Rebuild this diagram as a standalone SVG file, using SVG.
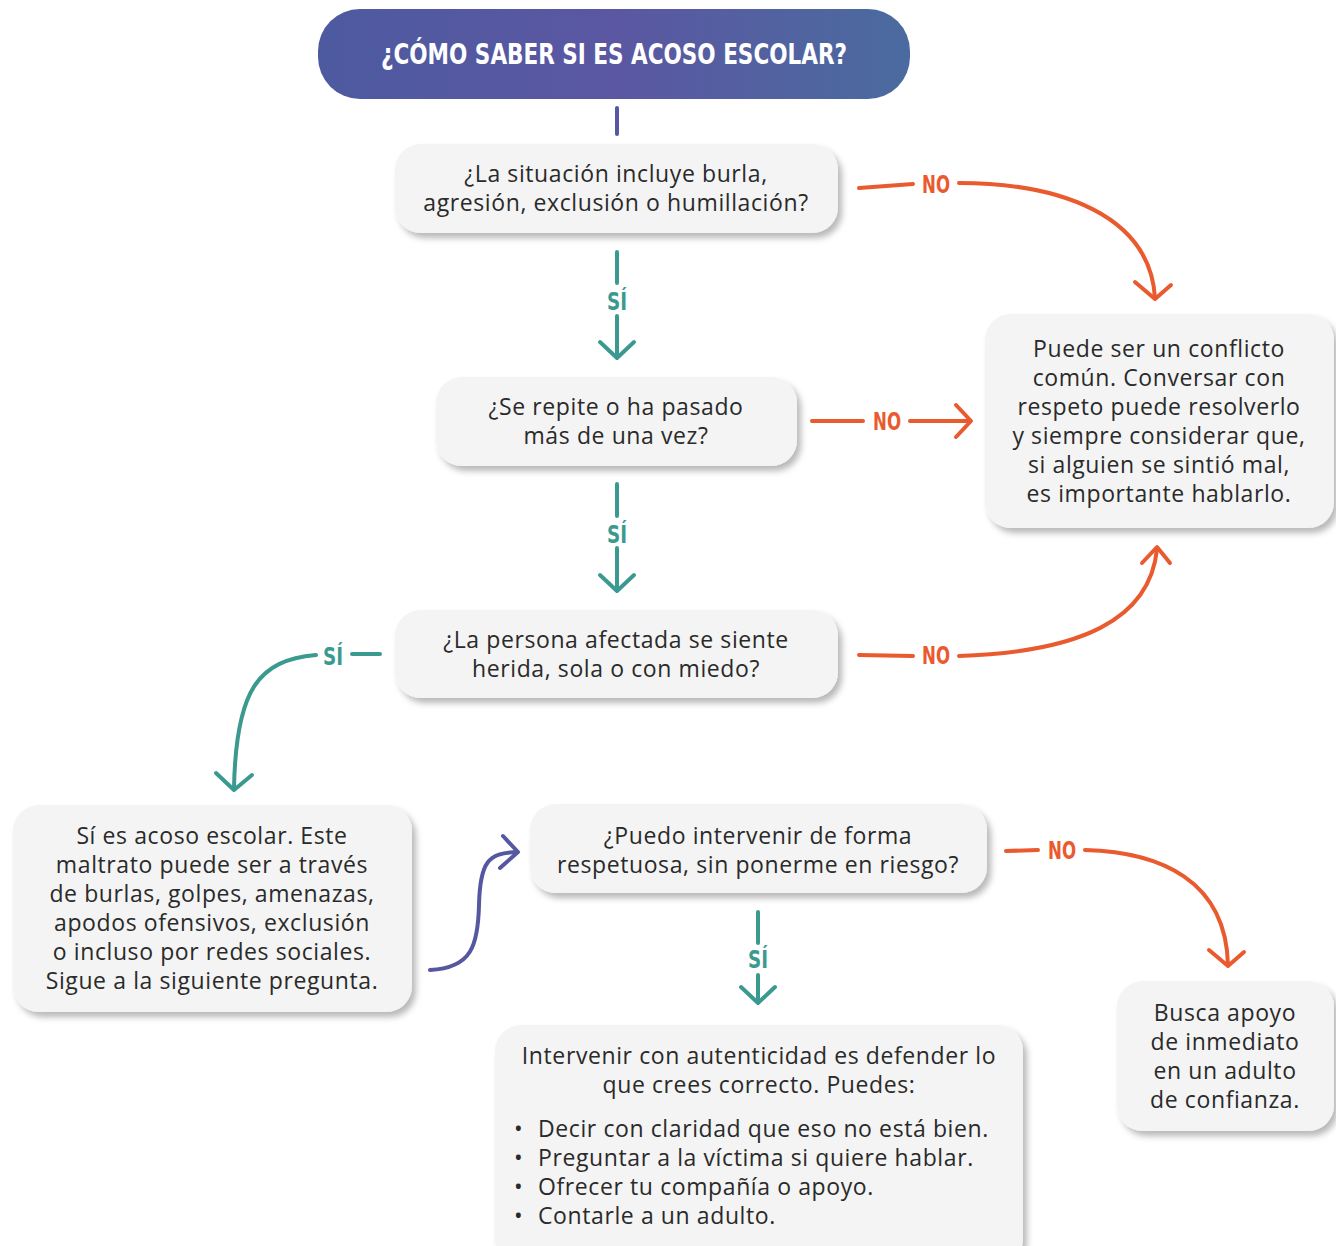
<svg xmlns="http://www.w3.org/2000/svg" width="1336" height="1246" viewBox="0 0 1336 1246">
<defs>
<linearGradient id="tg" x1="0" y1="0" x2="1" y2="0">
<stop offset="0" stop-color="#4d5aa0"/>
<stop offset="0.5" stop-color="#5b57a2"/>
<stop offset="1" stop-color="#4a6b9f"/>
</linearGradient>
<filter id="sh" x="-10%" y="-10%" width="125%" height="130%">
<feDropShadow dx="4" dy="5" stdDeviation="3" flood-color="#000" flood-opacity="0.28"/>
</filter>
<style>
.box{fill:#f4f4f4;filter:url(#sh)}
.t{font-family:"Open Sans","Noto Sans",sans-serif;font-size:23px;fill:#2a2a2a;text-anchor:middle;letter-spacing:0.6px}
.tl{font-family:"Open Sans","Noto Sans",sans-serif;font-size:23px;fill:#2a2a2a;letter-spacing:0.6px}
.bul{font-family:"Open Sans",sans-serif;font-size:23px;fill:#2a2a2a}
.lab{font-family:"Liberation Sans Narrow","DejaVu Sans Condensed","DejaVu Sans",sans-serif;font-stretch:condensed;font-weight:bold;font-size:24px;text-anchor:middle}
.teal{stroke:#3b9a8f;fill:none;stroke-width:4;stroke-linecap:round;stroke-linejoin:round}
.org{stroke:#ea5a2f;fill:none;stroke-width:4;stroke-linecap:round;stroke-linejoin:round}
.pur{stroke:#5557a1;fill:none;stroke-width:4;stroke-linecap:round;stroke-linejoin:round}
</style>
</defs>
<rect width="1336" height="1246" fill="#fff"/>

<g id="title">
<rect x="318" y="9" width="592" height="90" rx="42" fill="url(#tg)"/>
<text x="614" y="64" font-family="'Liberation Sans Narrow','DejaVu Sans Condensed',sans-serif" font-weight="bold" font-size="29" fill="#fff" text-anchor="middle" textLength="466" lengthAdjust="spacingAndGlyphs">¿CÓMO SABER SI ES ACOSO ESCOLAR?</text>
</g>

<g id="q1">
<rect class="box" x="395" y="144" width="443" height="89" rx="26"/>
<text class="t" x="616" y="182">¿La situación incluye burla,</text>
<text class="t" x="616" y="211">agresión, exclusión o humillación?</text>
</g>

<g id="q2">
<rect class="box" x="436" y="377" width="361" height="89" rx="26"/>
<text class="t" x="616" y="415">¿Se repite o ha pasado</text>
<text class="t" x="616" y="444">más de una vez?</text>
</g>

<g id="q3">
<rect class="box" x="395" y="610" width="443" height="88" rx="26"/>
<text class="t" x="616" y="648">¿La persona afectada se siente</text>
<text class="t" x="616" y="677">herida, sola o con miedo?</text>
</g>

<g id="conflicto">
<rect class="box" x="985" y="314" width="349" height="214" rx="26"/>
<text class="t" x="1159" y="357">Puede ser un conflicto</text>
<text class="t" x="1159" y="386">común. Conversar con</text>
<text class="t" x="1159" y="415">respeto puede resolverlo</text>
<text class="t" x="1159" y="444">y siempre considerar que,</text>
<text class="t" x="1159" y="473">si alguien se sintió mal,</text>
<text class="t" x="1159" y="502">es importante hablarlo.</text>
</g>

<g id="acoso">
<rect class="box" x="13" y="805" width="399" height="207" rx="26"/>
<text class="t" x="212" y="844">Sí es acoso escolar. Este</text>
<text class="t" x="212" y="873">maltrato puede ser a través</text>
<text class="t" x="212" y="902">de burlas, golpes, amenazas,</text>
<text class="t" x="212" y="931">apodos ofensivos, exclusión</text>
<text class="t" x="212" y="960">o incluso por redes sociales.</text>
<text class="t" x="212" y="989">Sigue a la siguiente pregunta.</text>
</g>

<g id="q4">
<rect class="box" x="530" y="804" width="457" height="89" rx="26"/>
<text class="t" x="758" y="844">¿Puedo intervenir de forma</text>
<text class="t" x="758" y="873">respetuosa, sin ponerme en riesgo?</text>
</g>

<g id="intervenir">
<rect class="box" x="495" y="1025" width="528" height="240" rx="26"/>
<text class="t" x="759" y="1064">Intervenir con autenticidad es defender lo</text>
<text class="t" x="759" y="1093">que crees correcto. Puedes:</text>
<text class="bul" x="514" y="1137">•</text><text class="tl" x="538" y="1137">Decir con claridad que eso no está bien.</text>
<text class="bul" x="514" y="1166">•</text><text class="tl" x="538" y="1166">Preguntar a la víctima si quiere hablar.</text>
<text class="bul" x="514" y="1195">•</text><text class="tl" x="538" y="1195">Ofrecer tu compañía o apoyo.</text>
<text class="bul" x="514" y="1224">•</text><text class="tl" x="538" y="1224">Contarle a un adulto.</text>
</g>

<g id="busca">
<rect class="box" x="1117" y="981" width="217" height="150" rx="26"/>
<text class="t" x="1225" y="1021">Busca apoyo</text>
<text class="t" x="1225" y="1050">de inmediato</text>
<text class="t" x="1225" y="1079">en un adulto</text>
<text class="t" x="1225" y="1108">de confianza.</text>
</g>

<g id="connectors">
<line class="pur" x1="617" y1="108" x2="617" y2="134"/>

<line class="teal" x1="617" y1="252" x2="617" y2="283"/>
<line class="teal" x1="617" y1="316" x2="617" y2="357"/>
<polyline class="teal" points="600,342 617,358 634,342"/>
<text class="lab" x="617" y="310" fill="#3b9a8f" textLength="20" lengthAdjust="spacingAndGlyphs">SÍ</text>

<line class="teal" x1="617" y1="484" x2="617" y2="516"/>
<line class="teal" x1="617" y1="548" x2="617" y2="590"/>
<polyline class="teal" points="600,575 617,591 634,575"/>
<text class="lab" x="617" y="543" fill="#3b9a8f" textLength="20" lengthAdjust="spacingAndGlyphs">SÍ</text>

<line class="teal" x1="758" y1="912" x2="758" y2="943"/>
<line class="teal" x1="758" y1="975" x2="758" y2="1002"/>
<polyline class="teal" points="741,987 758,1003 775,987"/>
<text class="lab" x="758" y="968" fill="#3b9a8f" textLength="20" lengthAdjust="spacingAndGlyphs">SÍ</text>

<line class="teal" x1="380" y1="654" x2="352" y2="654"/>
<path class="teal" d="M316,655 C258,660 236,690 234,788"/>
<polyline class="teal" points="216,773 234,790 252,775"/>
<text class="lab" x="333" y="665" fill="#3b9a8f" textLength="20" lengthAdjust="spacingAndGlyphs">SÍ</text>

<path class="org" d="M859,188 L913,184"/>
<path class="org" d="M959,183 C1060,183 1150,215 1155,298"/>
<polyline class="org" points="1135,282 1155,299 1171,285"/>
<text class="lab" x="936" y="193" fill="#ea5a2f" textLength="28" lengthAdjust="spacingAndGlyphs">NO</text>

<line class="org" x1="812" y1="421" x2="863" y2="421"/>
<line class="org" x1="910" y1="421" x2="970" y2="421"/>
<polyline class="org" points="956,405 971,421 956,437"/>
<text class="lab" x="887" y="430" fill="#ea5a2f" textLength="28" lengthAdjust="spacingAndGlyphs">NO</text>

<path class="org" d="M859,655 L913,656"/>
<path class="org" d="M959,656 C1080,652 1150,620 1157,549"/>
<polyline class="org" points="1142,563 1157,547 1170,563"/>
<text class="lab" x="936" y="664" fill="#ea5a2f" textLength="28" lengthAdjust="spacingAndGlyphs">NO</text>

<path class="org" d="M1006,851 L1038,850"/>
<path class="org" d="M1085,850 C1160,852 1226,880 1228,965"/>
<polyline class="org" points="1209,950 1228,966 1244,952"/>
<text class="lab" x="1062" y="859" fill="#ea5a2f" textLength="28" lengthAdjust="spacingAndGlyphs">NO</text>

<path class="pur" d="M430,970 C472,968 478,945 479,905 C480,862 488,853 517,852"/>
<polyline class="pur" points="503,836 518,852 500,868"/>
</g>
</svg>
